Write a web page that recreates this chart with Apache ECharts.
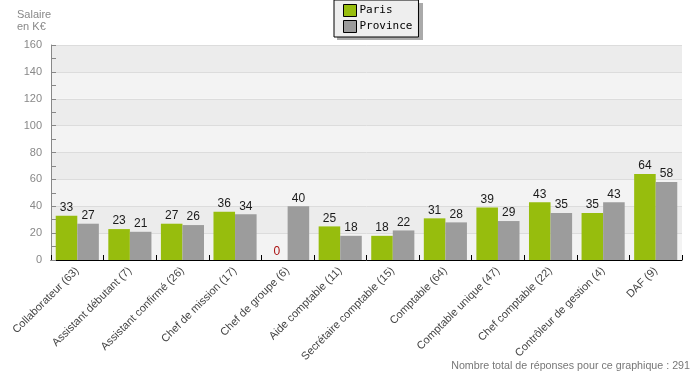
<!DOCTYPE html>
<html>
<head>
<meta charset="utf-8">
<script src="https://cdn.jsdelivr.net/npm/echarts@6/dist/echarts.min.js"></script>
<style>html,body{margin:0;padding:0;background:#fff;}#c{width:700px;height:380px;}</style>
</head>
<body>
<div id="c"></div>
<script>
const categories = ['Collaborateur (63)', 'Assistant débutant (7)', 'Assistant confirmé (26)', 'Chef de mission (17)', 'Chef de groupe (6)', 'Aide comptable (11)', 'Secrétaire comptable (15)', 'Comptable (64)', 'Comptable unique (47)', 'Chef comptable (22)', 'Contrôleur de gestion (4)', 'DAF (9)'];
const paris = [33, 23, 27, 36, 0, 25, 18, 31, 39, 43, 35, 64];
const province = [27, 21, 26, 34, 40, 18, 22, 28, 29, 35, 43, 58];
const yTicks = [0, 20, 40, 60, 80, 100, 120, 140, 160];
const yTitle = 'Salaire\nen K€';
const footer = 'Nombre total de réponses pour ce graphique : 291';

const chart = echarts.init(document.getElementById('c'), null, {renderer: 'canvas'});
const labelStyle = {show: true, position: 'top', distance: 2, color: '#1a1a1a', fontFamily: '"Liberation Sans Narrow", "Liberation Sans"', fontSize: 12};
chart.setOption({
  animation: false,
  backgroundColor: '#ffffff',
  grid: {left: 51, right: 18, top: 45, bottom: 120, containLabel: false},
  legend: {
    top: 0, left: 334, orient: 'vertical', itemGap: 3, itemWidth: 13, itemHeight: 12,
    padding: [4, 6, 4, 9],
    backgroundColor: '#eeeeee', borderColor: '#000', borderWidth: 1,
    textStyle: {fontFamily: 'DejaVu Sans Mono', fontSize: 11, color: '#000', padding: [0, 0, 0, -2]},
    itemStyle: {borderColor: '#000', borderWidth: 1},
    data: [{name: 'Paris', icon: 'rect'}, {name: 'Province', icon: 'rect'}]
  },
  graphic: [
    {type: 'rect', z: -1, shape: {x: 337, y: 3, width: 86, height: 37}, style: {fill: '#aaaaaa'}},
    {type: 'text', left: 17, top: 9, style: {text: yTitle, fill: '#888', font: '11px "Liberation Sans"', lineHeight: 12}},
    {type: 'text', right: 10, top: 361, style: {text: footer, fill: '#777', font: '10.7px "Liberation Sans"'}}
  ],
  xAxis: {
    type: 'category', data: categories,
    axisLine: {lineStyle: {color: '#000', width: 1}},
    axisTick: {show: true, inside: true, length: 5, lineStyle: {color: '#000'}},
    axisLabel: {rotate: 45, interval: 0, margin: 9, color: '#444', fontFamily: 'Liberation Sans', fontSize: 11}
  },
  yAxis: {
    type: 'value', min: yTicks[0], max: yTicks[yTicks.length - 1], interval: 20,
    axisLine: {show: true, lineStyle: {color: '#888'}},
    axisTick: {show: true, inside: true, length: 5, lineStyle: {color: '#888'}},
    minorTick: {show: true, splitNumber: 2, length: 5, lineStyle: {color: '#888'}},
    axisLabel: {color: '#888', fontFamily: 'Liberation Sans', fontSize: 11, margin: 9},
    splitLine: {show: true, lineStyle: {color: '#dcdcdc'}},
    splitArea: {show: true, areaStyle: {color: ['#f3f3f3', '#ececec']}}
  },
  series: [
    {name: 'Paris', type: 'bar', barGap: '0%', barCategoryGap: '18%',
     itemStyle: {color: '#97bd0d'},
     label: labelStyle,
     data: paris.map(v => v === 0 ? {value: v, label: {color: '#aa1111'}} : v)},
    {name: 'Province', type: 'bar', itemStyle: {color: '#9c9c9c'},
     label: labelStyle, data: province}
  ]
});
</script>
</body>
</html>
